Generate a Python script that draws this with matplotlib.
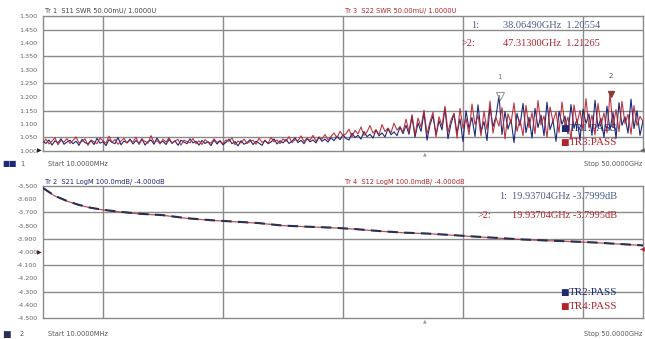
import numpy as np
import matplotlib
matplotlib.use("Agg")
import matplotlib.pyplot as plt

# ---- sweep settings ----
f_start_ghz = 0.01
f_stop_ghz = 50.0
n_points = 201

# ---- upper window: SWR traces ----
s11_swr = [
    1.035, 1.028, 1.041, 1.022, 1.038, 1.030, 1.045, 1.025, 1.033, 1.040,
    1.027, 1.036, 1.021, 1.043, 1.031, 1.026, 1.039, 1.024, 1.047, 1.029,
    1.034, 1.020, 1.042, 1.032, 1.027, 1.050, 1.023, 1.037, 1.030, 1.044,
    1.026, 1.039, 1.028, 1.046, 1.022, 1.035, 1.041, 1.025, 1.048, 1.031,
    1.036, 1.024, 1.043, 1.029, 1.038, 1.021, 1.040, 1.033, 1.027, 1.045,
    1.030, 1.036, 1.022, 1.039, 1.028, 1.034, 1.020, 1.041, 1.026, 1.037,
    1.023, 1.032, 1.044, 1.027, 1.035, 1.019, 1.038, 1.025, 1.031, 1.042,
    1.024, 1.036, 1.029, 1.021, 1.040, 1.027, 1.033, 1.045, 1.026, 1.038,
    1.030, 1.043, 1.028, 1.036, 1.049, 1.031, 1.040, 1.027, 1.046, 1.034,
    1.041, 1.030, 1.052, 1.036, 1.044, 1.033,
    1.049, 1.038, 1.055, 1.042, 1.060, 1.046, 1.041, 1.066, 1.050, 1.058,
    1.044, 1.072, 1.053, 1.062, 1.048, 1.078, 1.056, 1.067, 1.052, 1.083,
    1.060, 1.071, 1.057, 1.088, 1.064,
    1.095, 1.062, 1.128, 1.051, 1.104, 1.073, 1.142, 1.040, 1.097, 1.131,
    1.060, 1.112, 1.078, 1.158, 1.046, 1.101, 1.137, 1.066, 1.119, 1.035,
    1.149, 1.083, 1.124, 1.054, 1.171, 1.072, 1.109, 1.039, 1.163, 1.090,
    1.128, 1.2055, 1.061, 1.146, 1.081, 1.117, 1.031, 1.139, 1.094, 1.176,
    1.068, 1.125, 1.048, 1.158, 1.087, 1.133, 1.057, 1.181, 1.079, 1.113,
    1.036, 1.147, 1.099, 1.129, 1.063, 1.172, 1.084, 1.118, 1.042, 1.155,
    1.102, 1.137, 1.058, 1.188, 1.088, 1.121, 1.050, 1.166, 1.077, 1.143,
    1.047, 1.179, 1.095, 1.127, 1.066, 1.192, 1.083, 1.149, 1.058, 1.112,
]
s22_swr = [
    1.031, 1.044, 1.026, 1.037, 1.049, 1.023, 1.040, 1.033, 1.046, 1.028,
    1.039, 1.052, 1.030, 1.036, 1.045, 1.021, 1.041, 1.034, 1.027, 1.048,
    1.038, 1.029, 1.055, 1.032, 1.043, 1.025, 1.037, 1.047, 1.030, 1.040,
    1.034, 1.051, 1.024, 1.042, 1.036, 1.029, 1.057, 1.031, 1.039, 1.026,
    1.044, 1.033, 1.049, 1.028, 1.037, 1.043, 1.022, 1.040, 1.035, 1.030,
    1.046, 1.027, 1.038, 1.024, 1.042, 1.033, 1.029, 1.045, 1.031, 1.039,
    1.026, 1.041, 1.036, 1.048, 1.023, 1.037, 1.030, 1.044, 1.028, 1.035,
    1.040, 1.025, 1.047, 1.032, 1.038, 1.029, 1.050, 1.034, 1.041, 1.027,
    1.045, 1.036, 1.053, 1.031, 1.042, 1.038, 1.056, 1.035, 1.047, 1.040,
    1.058, 1.037, 1.049, 1.044, 1.061, 1.041,
    1.054, 1.067, 1.048, 1.073, 1.057, 1.064, 1.081, 1.052, 1.076, 1.063,
    1.089, 1.058, 1.071, 1.094, 1.066, 1.079, 1.060, 1.098, 1.072, 1.085,
    1.068, 1.103, 1.077, 1.091, 1.070,
    1.118, 1.071, 1.135, 1.058, 1.122, 1.089, 1.151, 1.063, 1.108, 1.144,
    1.052, 1.127, 1.093, 1.166, 1.070, 1.115, 1.139, 1.048, 1.158, 1.084,
    1.121, 1.061, 1.174, 1.098, 1.132, 1.056, 1.147, 1.079, 1.185, 1.066,
    1.124, 1.092, 1.161, 1.045, 1.138, 1.103, 1.178, 1.073, 1.116, 1.057,
    1.169, 1.086, 1.142, 1.064, 1.187, 1.097, 1.130, 1.051, 1.163, 1.109,
    1.145, 1.068, 1.182, 1.091, 1.126, 1.043, 1.171, 1.102, 1.150, 1.076,
    1.194, 1.085, 1.133, 1.059, 1.176, 1.096, 1.141, 1.067, 1.2127, 1.088,
    1.153, 1.072, 1.184, 1.101, 1.136, 1.062, 1.168, 1.094, 1.128, 1.110,
]
swr_marker_freq = [38.06490, 47.31300]
swr_marker_val = [1.20554, 1.21265]
swr_ticks = [1.500, 1.450, 1.400, 1.350, 1.300, 1.250, 1.200, 1.150, 1.100, 1.050, 1.000]

# ---- lower window: transmission (dB) ----
lm_freq = [0.01, 0.5, 1, 2, 3, 4, 5, 6, 8, 10, 12, 14, 16, 18, 20, 22, 24,
           26, 28, 30, 32, 34, 36, 38, 40, 42, 44, 46, 48, 50]
s21_db = [-3.515, -3.545, -3.575, -3.613, -3.643, -3.665, -3.680, -3.691,
          -3.710, -3.721, -3.744, -3.759, -3.770, -3.781, -3.800, -3.808,
          -3.815, -3.826, -3.841, -3.853, -3.860, -3.871, -3.883, -3.894,
          -3.905, -3.913, -3.920, -3.928, -3.939, -3.950]
s12_db = [-3.516, -3.546, -3.576, -3.614, -3.644, -3.666, -3.681, -3.692,
          -3.711, -3.722, -3.745, -3.760, -3.771, -3.782, -3.800, -3.809,
          -3.816, -3.827, -3.842, -3.854, -3.861, -3.872, -3.884, -3.895,
          -3.906, -3.914, -3.921, -3.929, -3.940, -3.951]
lm_marker_freq = [19.93704, 19.93704]
lm_marker_val = [-3.79995, -3.79953]
lm_ticks = [-3.500, -3.600, -3.700, -3.800, -3.900, -4.000, -4.100, -4.200, -4.300, -4.400, -4.500]

NAVY = "#1e2a78"
RED = "#b3232d"
GRID = "#8a8a8a"
W, H = 645, 339

freq = np.linspace(f_start_ghz, f_stop_ghz, n_points)

fig = plt.figure(figsize=(W / 100, H / 100), dpi=100)
fig.patch.set_facecolor("white")


def px_axes(x0, y0, x1, y1):
    return fig.add_axes([x0 / W, 1 - y1 / H, (x1 - x0) / W, (y1 - y0) / H])


def ftext(x, y, s, **kw):
    kw.setdefault("va", "center")
    kw.setdefault("ha", "left")
    fig.text(x / W, 1 - y / H, s, **kw)


def style_window(ax, ticks, lo, hi, hlines):
    ax.set_xlim(f_start_ghz, f_stop_ghz)
    ax.set_ylim(lo, hi)
    ax.set_xticks([])
    ax.set_yticks(ticks)
    ax.set_yticklabels([f"{t:.3f}" for t in ticks], fontsize=4.6, color="#666666",
                       family="DejaVu Sans")
    ax.tick_params(axis="y", length=0, pad=4)
    for s in ax.spines.values():
        s.set_color(GRID)
        s.set_linewidth(1.0)
    div = (f_stop_ghz - f_start_ghz) / 10
    for k in (1, 3, 5, 7, 9):
        ax.axvline(f_start_ghz + k * div, color=GRID, lw=1.0, zorder=1)
    for v in hlines:
        ax.axhline(v, color=GRID, lw=1.0, zorder=1)


def pass_labels(ax, rows):
    for yfrac, label, color in rows:
        ax.text(0.862, yfrac, "■", transform=ax.transAxes, fontsize=6.5,
                color=color, va="center", zorder=7)
        ax.text(0.877, yfrac, label, transform=ax.transAxes, fontsize=8,
                color=color, family="Liberation Serif", va="center", zorder=7)


# upper window
ax1 = px_axes(43, 16, 643, 151)
style_window(ax1, swr_ticks, 1.0, 1.5, [1.45, 1.35, 1.25, 1.15, 1.05])
ax1.plot(freq, s11_swr, color=NAVY, lw=0.8, zorder=3)
ax1.plot(freq, s22_swr, color=RED, lw=0.8, zorder=4, alpha=0.9)
ax1.plot(swr_marker_freq[0], swr_marker_val[0], marker="v", ms=6, mfc="none",
         mec="#9a9a9a", mew=0.8, zorder=6)
ax1.annotate("1", (swr_marker_freq[0], swr_marker_val[0]), xytext=(0, 12),
             textcoords="offset points", ha="center", fontsize=5, color="#777777")
ax1.plot(swr_marker_freq[1], swr_marker_val[1], marker="v", ms=5, color="#8c3a3a",
         zorder=6)
ax1.annotate("2", (swr_marker_freq[1], swr_marker_val[1]), xytext=(0, 11),
             textcoords="offset points", ha="center", fontsize=5, color="#555555")
pass_labels(ax1, [(0.165, "TR1:PASS", NAVY), (0.06, "TR3:PASS", RED)])

# marker readout, upper window
ftext(471, 25, "1:", fontsize=7.5, color="#4b5a8a", family="Liberation Serif")
ftext(503, 25, f"{swr_marker_freq[0]:.5f}GHz  {swr_marker_val[0]:.5f}", fontsize=7.5,
      color="#4b5a8a", family="Liberation Serif")
ftext(462, 43, ">2:", fontsize=7.5, color=RED, family="Liberation Serif")
ftext(503, 43, f"{swr_marker_freq[1]:.5f}GHz  {swr_marker_val[1]:.5f}", fontsize=7.5,
      color=RED, family="Liberation Serif")

# lower window
ax2 = px_axes(43, 186, 643, 318)
style_window(ax2, lm_ticks, -4.5, -3.5, [-3.7, -3.9, -4.1, -4.3])
ax2.plot(lm_freq, s12_db, color=RED, lw=0.9, alpha=0.8, zorder=3)
ax2.plot(lm_freq, s21_db, color="#2a2f55", lw=1.5, ls=(0, (5, 3)), zorder=4)
pass_labels(ax2, [(0.19, "TR2:PASS", NAVY), (0.085, "TR4:PASS", RED)])

ftext(499, 196, "1:", fontsize=7.5, color="#4b5a8a", family="Liberation Serif")
ftext(512, 196, f"{lm_marker_freq[0]:.5f}GHz -{abs(lm_marker_val[0]):.4f}dB",
      fontsize=7.5, color="#4b5a8a", family="Liberation Serif")
ftext(478, 216, ">2:", fontsize=7.5, color=RED, family="Liberation Serif")
ftext(512, 216, f"{lm_marker_freq[1]:.5f}GHz -{abs(lm_marker_val[1]):.4f}dB",
      fontsize=7.5, color=RED, family="Liberation Serif")

# headers and status lines
hdr = dict(fontsize=4.8, family="DejaVu Sans")
ftext(45, 11, "Tr 1  S11 SWR 50.00mU/ 1.0000U", color="#444444", **hdr)
ftext(345, 11, "Tr 3  S22 SWR 50.00mU/ 1.0000U", color=RED, **hdr)
ftext(45, 182, "Tr 2  S21 LogM 100.0mdB/ -4.000dB", color=NAVY, **hdr)
ftext(345, 182, "Tr 4  S12 LogM 100.0mdB/ -4.000dB", color=RED, **hdr)
ftext(2, 164, "■■", fontsize=5.5, color=NAVY)
ftext(20, 164, "1", fontsize=4.8, color="#555555")
ftext(48, 164, "Start 10.0000MHz", color="#555555", **hdr)
ftext(642, 164, "Stop 50.0000GHz", color="#555555", ha="right", **hdr)
ftext(2, 334, "■", fontsize=6.5, color="#2a2f55")
ftext(20, 334, "2", fontsize=4.8, color="#555555")
ftext(48, 334, "Start 10.0000MHz", color="#555555", **hdr)
ftext(642, 334, "Stop 50.0000GHz", color="#555555", ha="right", **hdr)

# reference position markers
ftext(37, 151, "▶", fontsize=4.5, color="#222222")
ftext(37, 253, "▶", fontsize=4.5, color="#5a1a1a")
ftext(645, 151, "◀", fontsize=4.5, color="#666666", ha="right")
ftext(645, 250, "◀", fontsize=4.5, color=RED, ha="right")
ftext(425, 154, "▲", fontsize=3.5, color="#999999", ha="center")
ftext(425, 321, "▲", fontsize=3.5, color="#999999", ha="center")

fig.savefig("out.png", dpi=100, facecolor="white")
